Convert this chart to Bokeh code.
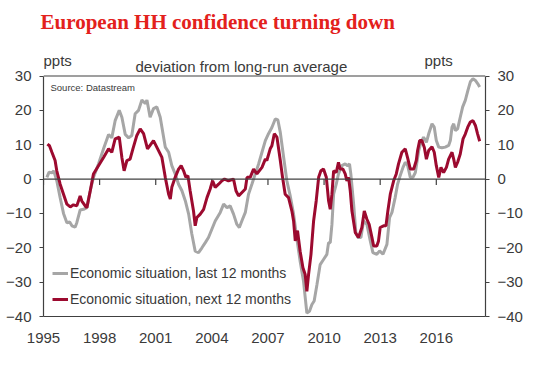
from bokeh.plotting import figure
from bokeh.models import LinearAxis, Range1d, FixedTicker, Span, Label, Legend, LegendItem, Title
from bokeh.embed import file_html
from bokeh.resources import INLINE

# ---- data ----
years_last = [1995.18, 1995.3, 1995.45, 1995.55, 1995.71, 1995.89, 1996.07, 1996.25, 1996.4, 1996.52,
              1996.69, 1996.78, 1996.96, 1997.14, 1997.32, 1997.5, 1997.67, 1997.94, 1998.21, 1998.48,
              1998.65, 1998.83, 1999.05, 1999.19, 1999.37, 1999.55, 1999.72, 1999.9, 2000.08, 2000.26,
              2000.44, 2000.53, 2000.7, 2000.88, 2001.06, 2001.24, 2001.51, 2001.69, 2001.86, 2002.04,
              2002.22, 2002.4, 2002.58, 2002.76, 2002.93, 2003.11, 2003.29, 2003.47, 2003.65, 2003.82,
              2004.0, 2004.18, 2004.45, 2004.63, 2004.81, 2004.98, 2005.16, 2005.34, 2005.47, 2005.64,
              2005.79, 2005.96, 2006.14, 2006.32, 2006.5, 2006.68, 2006.86, 2007.03, 2007.21, 2007.39,
              2007.53, 2007.66, 2007.84, 2008.01, 2008.19, 2008.37, 2008.55, 2008.72, 2008.9, 2009.08,
              2009.22, 2009.35, 2009.47, 2009.62, 2009.79, 2009.97, 2010.15, 2010.24, 2010.33, 2010.42,
              2010.51, 2010.65, 2010.77, 2010.95, 2011.13, 2011.26, 2011.36, 2011.43, 2011.58, 2011.7,
              2011.81, 2011.97, 2012.11, 2012.29, 2012.47, 2012.61, 2012.82, 2012.97, 2013.15, 2013.36,
              2013.5, 2013.63, 2013.8, 2013.93, 2014.04, 2014.22, 2014.34, 2014.47, 2014.61, 2014.75,
              2014.88, 2015.06, 2015.18, 2015.32, 2015.47, 2015.59, 2015.77, 2015.89, 2016.0, 2016.13,
              2016.3, 2016.48, 2016.66, 2016.75, 2016.84, 2016.93, 2017.02, 2017.14, 2017.28, 2017.41,
              2017.55, 2017.69, 2017.82, 2017.96, 2018.09, 2018.21, 2018.32]
last_12m = [0.5, 2.0, 1.8, 2.4, -0.5, -5.4, -10.0, -12.7, -12.5, -13.6,
            -14.0, -12.7, -9.0, -8.8, -8.3, -3.4, 0.5, 4.4, 8.8, 13.0,
            12.0, 17.0, 20.0, 18.0, 13.0, 12.0, 12.7, 19.0, 20.0, 23.0,
            22.0, 23.0, 18.0, 20.5, 21.0, 18.0, 9.3, 7.8, 3.9, 1.5,
            -1.5, -3.4, -6.3, -10.2, -16.0, -21.0, -21.4, -20.0, -18.5, -17.0,
            -14.6, -12.2, -9.7, -7.3, -8.3, -7.8, -10.2, -13.2, -14.1, -11.7,
            -9.7, -4.4, -1.5, 1.5, 4.4, 7.8, 11.2, 13.2, 15.0, 17.5,
            17.2, 13.6, 6.3, -0.5, -4.9, -10.2, -17.5, -23.9, -29.7, -39.0,
            -38.5, -36.5, -35.5, -30.7, -24.9, -23.4, -21.9, -18.5, -18.5, -13.2,
            -4.4, -1.5, 1.5, 3.9, 4.4, 3.9, 4.4, 1.5, -7.3, -15.6,
            -17.0, -17.0, -12.2, -13.2, -18.0, -21.4, -21.9, -20.9, -21.9, -19.0,
            -11.2, -9.7, -5.4, -1.5, 0.5, 3.4, 4.9, 3.9, 0.5, 0.5,
            1.9, 8.3, 10.7, 12.2, 10.7, 13.1, 16.1, 15.1, 11.2, 9.3,
            9.1, 9.3, 9.8, 11.2, 15.1, 16.1, 14.1, 14.6, 18.0, 21.0,
            22.9, 25.8, 28.3, 29.2, 28.7, 27.8, 26.8]

years_next = [1995.21, 1995.32, 1995.45, 1995.62, 1995.71, 1995.89, 1996.07, 1996.25, 1996.43, 1996.6,
              1996.78, 1996.96, 1997.05, 1997.23, 1997.32, 1997.5, 1997.67, 1997.94, 1998.21, 1998.48,
              1998.65, 1998.83, 1999.05, 1999.19, 1999.31, 1999.46, 1999.63, 1999.78, 1999.99, 2000.17,
              2000.35, 2000.56, 2000.88, 2001.15, 2001.33, 2001.51, 2001.69, 2001.78, 2001.86, 2002.04,
              2002.22, 2002.36, 2002.49, 2002.61, 2002.72, 2002.84, 2003.02, 2003.11, 2003.2, 2003.38,
              2003.56, 2003.74, 2003.91, 2004.04, 2004.18, 2004.36, 2004.54, 2004.68, 2004.89, 2005.16,
              2005.29, 2005.43, 2005.61, 2005.79, 2005.88, 2006.05, 2006.23, 2006.41, 2006.68, 2006.86,
              2006.94, 2007.12, 2007.21, 2007.34, 2007.48, 2007.66, 2007.78, 2007.92, 2008.1, 2008.28,
              2008.37, 2008.46, 2008.58, 2008.72, 2008.87, 2008.99, 2009.08, 2009.17, 2009.3, 2009.44,
              2009.58, 2009.71, 2009.83, 2009.97, 2010.12, 2010.24, 2010.33, 2010.42, 2010.51, 2010.65,
              2010.77, 2010.86, 2011.01, 2011.13, 2011.22, 2011.31, 2011.4, 2011.49, 2011.67, 2011.84,
              2012.02, 2012.15, 2012.29, 2012.41, 2012.56, 2012.65, 2012.82, 2012.91, 2013.0, 2013.18,
              2013.31, 2013.41, 2013.54, 2013.72, 2013.86, 2013.98, 2014.16, 2014.34, 2014.46, 2014.61,
              2014.79, 2014.93, 2015.0, 2015.11, 2015.23, 2015.36, 2015.47, 2015.59, 2015.77, 2015.89,
              2016.0, 2016.13, 2016.25, 2016.39, 2016.54, 2016.66, 2016.84, 2016.93, 2017.02, 2017.14,
              2017.28, 2017.43, 2017.55, 2017.68, 2017.82, 2017.96, 2018.09, 2018.21, 2018.32]
next_12m = [10.2, 9.7, 7.8, 5.4, 2.4, -1.5, -4.4, -7.3, -8.1, -7.5,
            -7.8, -4.9, -6.4, -7.8, -8.3, -3.4, 1.5, 3.9, 6.3, 8.8,
            7.8, 11.7, 12.2, 6.3, 2.4, 5.4, 5.8, 8.8, 12.7, 14.6,
            13.2, 8.8, 11.2, 8.3, 6.3, 0.5, -4.4, -5.8, -2.4, 0.5,
            2.9, 3.9, 2.4, 0.5, 1.0, -3.4, -9.3, -13.6, -11.2, -10.2,
            -8.8, -5.4, -2.9, -0.5, -2.4, -1.5, -0.5, 0.0, -0.5, 0.0,
            -3.4, -4.9, -3.9, -2.9, 0.5, 0.5, 2.9, 1.5, 3.4, 5.8,
            5.4, 8.8, 9.7, 13.2, 12.2, 5.4, 0.5, -4.4, -5.4, -9.3,
            -12.2, -18.0, -15.0, -21.0, -25.8, -27.8, -32.7, -27.8, -21.9, -12.2,
            -6.3, 0.5, 2.4, 2.9, 0.5, -6.3, -8.8, -4.4, 2.4, 1.9,
            4.9, 2.9, 2.9, 1.5, -0.5, 0.5, -3.4, -9.3, -15.6, -17.0,
            -14.1, -9.3, -11.7, -13.2, -17.0, -19.5, -19.5, -18.0, -14.1, -13.6,
            -13.6, -9.3, -4.4, -0.5, 1.5, 4.4, 7.8, 8.8, 6.3, 2.9,
            2.9, 5.4, 8.3, 11.2, 11.2, 9.2, 5.8, 8.3, 9.4, 7.8,
            3.9, 0.5, 3.4, 1.9, 3.4, 5.8, 7.8, 5.8, 3.4, 4.9,
            7.3, 11.7, 13.1, 15.1, 16.6, 17.0, 15.6, 13.1, 11.0]

x_ticks = [1995, 1998, 2001, 2004, 2007, 2010, 2013, 2016]
y_ticks = [-40, -30, -20, -10, 0, 10, 20, 30]
series_labels = ["Economic situation, last 12 months", "Economic situation, next 12 months"]

GRAY = "#a6a6a6"
RED = "#9c0a2f"
TXT = "#3a3a3a"
AX = "#404040"
FONT = "Liberation Sans"

# layout (canvas pixels)
W, H = 545, 360
LEFT, RIGHT_PX, TOP, BOTTOM_PX = 43, 485, 35, 316   # frame edges
PX_TOP_TICK = 75.5                                   # where the top tick (30) sits
unit = (BOTTOM_PX - PX_TOP_TICK) / (y_ticks[-1] - y_ticks[0])
y_hi = y_ticks[-1] + (PX_TOP_TICK - TOP) / unit

p = figure(width=W, height=H, output_backend="svg", toolbar_location=None,
           x_range=Range1d(1995.0, 2018.63), y_range=Range1d(y_ticks[0], y_hi),
           min_border_left=LEFT, min_border_right=W - RIGHT_PX,
           min_border_top=TOP, min_border_bottom=H - BOTTOM_PX,
           background_fill_color="white", border_fill_color="white")
p.outline_line_color = None
p.xgrid.visible = False
p.ygrid.visible = False

p.add_layout(Title(text="European HH confidence turning down", align="left", offset=-3,
                   standoff=4, text_font="Liberation Serif", text_font_style="bold",
                   text_font_size="21px", text_color="#e3211c"), "above")

# axes
p.xaxis.ticker = FixedTicker(ticks=x_ticks)
p.xaxis.major_tick_line_color = None
p.xaxis.minor_tick_line_color = None
p.xaxis.axis_line_color = AX
p.xaxis.axis_line_width = 1.2
p.xaxis.major_label_standoff = 10
p.xaxis.major_label_text_font = FONT
p.xaxis.major_label_text_font_size = "15px"
p.xaxis.major_label_text_color = TXT

p.yaxis.ticker = FixedTicker(ticks=y_ticks)
right_axis = LinearAxis(ticker=FixedTicker(ticks=y_ticks))
p.add_layout(right_axis, "right")
for ax in [p.yaxis[0], right_axis]:
    ax.bounds = (y_ticks[0], y_ticks[-1])
    ax.major_tick_out = 4
    ax.major_tick_in = 0
    ax.minor_tick_line_color = None
    ax.axis_line_color = AX
    ax.axis_line_width = 1.2
    ax.major_tick_line_color = AX
    ax.major_label_standoff = 8
    ax.major_label_text_font = FONT
    ax.major_label_text_font_size = "15px"
    ax.major_label_text_color = TXT

# top border of the plotting box, zero line and x ticks sitting on it
p.add_layout(Span(location=y_ticks[-1], dimension="width", line_color=AX, line_width=1.2))
p.add_layout(Span(location=0, dimension="width", line_color=AX, line_width=1.2))
p.segment(x0=x_ticks, y0=[0] * len(x_ticks), x1=x_ticks, y1=[-1.7] * len(x_ticks),
          line_color=AX, line_width=1.2)

r_last = p.line(years_last, last_12m, line_color=GRAY, line_width=3)
r_next = p.line(years_next, next_12m, line_color=RED, line_width=3)

legend = Legend(items=[LegendItem(label=series_labels[0], renderers=[r_last]),
                       LegendItem(label=series_labels[1], renderers=[r_next])],
                location=(9, 7), padding=0, margin=0, spacing=6,
                label_height=20, glyph_height=20, glyph_width=16, label_standoff=2,
                label_text_font=FONT, label_text_font_size="14px", label_text_color=TXT,
                background_fill_alpha=0, border_line_color=None)
p.add_layout(legend)

# screen units are relative to the frame's bottom-left corner (y upwards)
def add_text(x_page, y_baseline, text, size, color=TXT, font=FONT):
    p.add_layout(Label(x=x_page - LEFT, y=BOTTOM_PX - y_baseline, x_units="screen", y_units="screen",
                       text=text, text_font=font, text_font_size=size, text_color=color,
                       text_align="left", text_baseline="alphabetic"))

add_text(43, 60, "ppts", "15px")
add_text(135, 65.5, "deviation from long-run average", "15px")
add_text(424, 60, "ppts", "15px")
add_text(50, 87, "Source: Datastream", "9.5px")

open("out.html", "w").write(file_html(p, INLINE))
